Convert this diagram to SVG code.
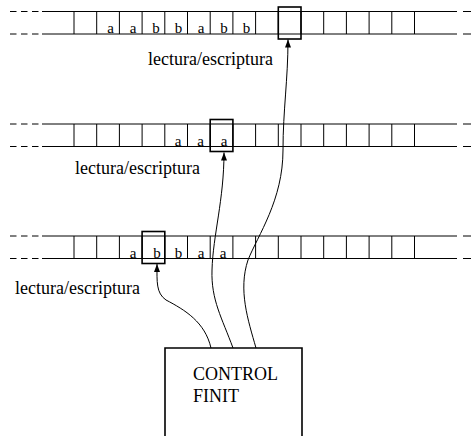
<svg xmlns="http://www.w3.org/2000/svg" width="471" height="436" viewBox="0 0 471 436">
<style>
.t{stroke:#000;stroke-width:1;fill:none}
.d{stroke:#000;stroke-width:1;fill:none;stroke-dasharray:6.5 4.5}
.h{stroke:#000;stroke-width:1.6;fill:none}
.c{stroke:#000;stroke-width:1;fill:none}
.lbl{font-family:'Liberation Serif','DejaVu Serif',serif;font-size:18px;fill:#000}
.sym{font-family:'Liberation Serif','DejaVu Serif',serif;font-size:15px;fill:#000;text-anchor:middle}
</style>
<defs>
<marker id="ah" markerWidth="10" markerHeight="10" refX="8" refY="3" orient="auto" markerUnits="userSpaceOnUse">
<path d="M0,0 L8,3 L0,6 Z" fill="#000"/>
</marker>
<g id="cells">
<path class="t" d="M74,0v22.5M96.7,0v22.5M119.4,0v22.5M142.1,0v22.5M164.8,0v22.5M187.5,0v22.5M210.2,0v22.5M232.9,0v22.5M255.6,0v22.5M278.3,0v22.5M301,0v22.5M323.7,0v22.5M346.4,0v22.5M369.1,0v22.5M391.8,0v22.5M414.5,0v22.5"/>
<path class="t" d="M42,0H457M42,22.5H457"/>
<path class="d" d="M10,0H40M10,22.5H40"/>
<path class="t" d="M463,0H471M463,22.5H471"/>
</g>
</defs>
<g id="tape1">
<use href="#cells" x="0" y="11.5"/>
<rect class="h" x="278.3" y="7" width="22.7" height="32"/>
<text class="sym" x="110.5" y="33">a</text>
<text class="sym" x="133" y="33">a</text>
<text class="sym" x="156" y="33">b</text>
<text class="sym" x="178.5" y="33">b</text>
<text class="sym" x="201" y="33">a</text>
<text class="sym" x="224" y="33">b</text>
<text class="sym" x="246.5" y="33">b</text>
<text class="lbl" x="148" y="64.5">lectura/escriptura</text>
</g>
<g id="tape2">
<use href="#cells" x="0" y="124"/>
<rect class="h" x="210.2" y="119.5" width="22.7" height="32"/>
<text class="sym" x="178" y="145.5">a</text>
<text class="sym" x="200.5" y="145.5">a</text>
<text class="sym" x="224" y="145.5">a</text>
<text class="lbl" x="75" y="174">lectura/escriptura</text>
</g>
<g id="tape3">
<use href="#cells" x="0" y="236"/>
<rect class="h" x="142.1" y="231.5" width="22.7" height="32"/>
<text class="sym" x="133" y="257.5">a</text>
<text class="sym" x="157" y="257.5">b</text>
<text class="sym" x="178.5" y="257.5">b</text>
<text class="sym" x="201" y="257.5">a</text>
<text class="sym" x="223" y="257.5">a</text>
<text class="lbl" x="15" y="294">lectura/escriptura</text>
</g>
<g id="control">
<path class="h" d="M165,436V348H302V436"/>
<text class="lbl" x="193" y="380">CONTROL</text>
<text class="lbl" x="193" y="402">FINIT</text>
</g>
<g id="connectors">
<path class="c" marker-end="url(#ah)" d="M211,348 C205,322 185,310 166,300 C156,293 157,282 157,264"/>
<path class="c" marker-end="url(#ah)" d="M233,348 C222,318 211,300 212,270 C213,235 224,200 224,152.5"/>
<path class="c" marker-end="url(#ah)" d="M256,348 C248,320 238,290 248,260 C258,235 283,200 283,150 C283,110 288,80 288,39.5"/>
</g>
</svg>
